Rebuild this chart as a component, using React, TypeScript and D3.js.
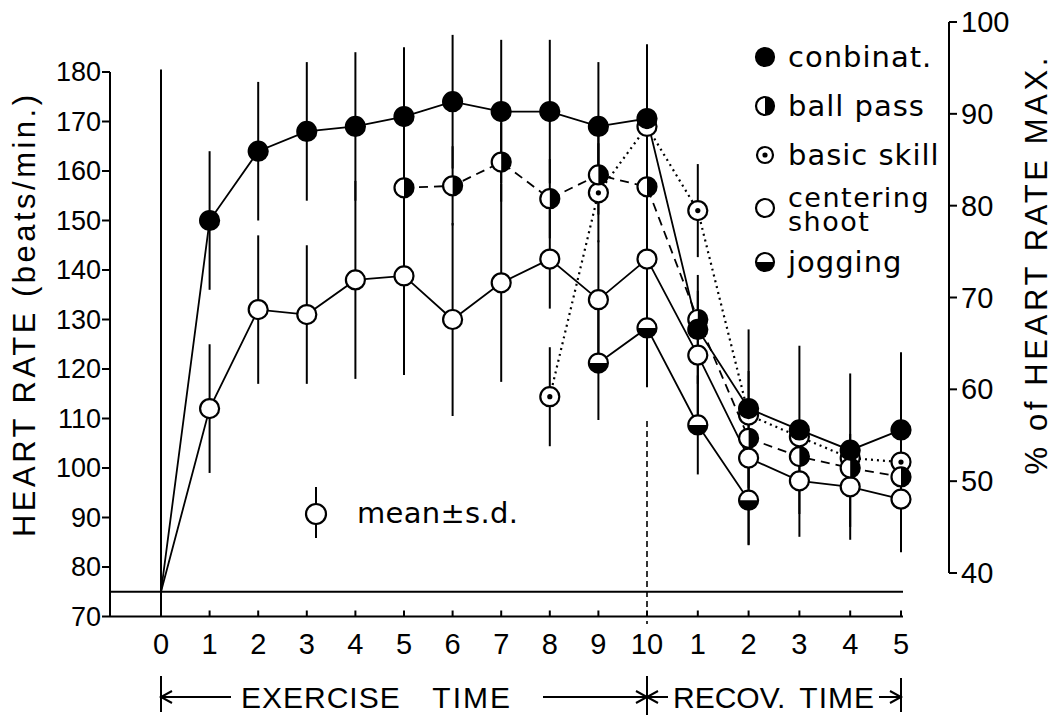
import React from 'react';
import * as d3 from 'd3';

// ---- data (index 0..10 = exercise min 0..10, 11..15 = recovery min 1..5)
const xTickLabels = ['0', '1', '2', '3', '4', '5', '6', '7', '8', '9', '10', '1', '2', '3', '4', '5'];
const hrTicks = [70, 80, 90, 100, 110, 120, 130, 140, 150, 160, 170, 180];
const pctTicks = [40, 50, 60, 70, 80, 90, 100];
const restingHR = 75;
const startLineRange = [70, 180.5];
const recoveryMarkerRange = [68.5, 109.5];

const conbinat = [75, 150, 164, 168, 169, 171, 174, 172, 172, 169, 170.6, 128, 112, 107.7, 103.6, 107.7];
const conbinatSd = [null, 14, 14, 14, 15, 14, 13.5, 14.5, 14.5, 13, 15, 11, 16, 17, 15.5, 15.7];

const ballPass = [null, null, null, null, null, 156.6, 157, 161.8, 154.4, 159.2, 156.8, 130, 106, 102.3, 100, 98.2];
const ballPassSd = [null, null, null, null, null, 8, 8, 8, 8, 8, 8, null, null, null, null, null];

const basicSkill = [null, null, null, null, null, null, null, null, 114.4, 155.6, 169, 152, 110.7, 106.3, 102, 101.2];
const basicSkillSd = [null, null, null, null, null, null, null, null, 10, 10, null, 9.4, null, null, null, null];

const centeringShoot = [75, 112, 132, 131, 138, 138.8, 130, 137.4, 142.2, 134, 142.2, 122.8, 102, 97.4, 96.2, 93.7];
const centeringShootSd = [null, 13, 15, 14, 20, 20, 19.5, 20, 10, 12, 14, 13, 17.6, 11.3, 10.7, 10.7];

const jogging = [null, null, null, null, null, null, null, null, null, 121.2, 128.3, 108.7, 93.5, null, null, null];
const joggingSd = [null, null, null, null, null, null, null, null, null, 11.5, 12, 10, 9, null, null, null];

type MarkerKind = 'filled' | 'halfRight' | 'dot' | 'open' | 'halfBottom';
interface Series { name: string[]; values: (number | null)[]; sd: (number | null)[]; marker: MarkerKind; dash: string | null; }

// draw order: bottom first
const series: Series[] = [
  { name: ['centering', 'shoot'], values: centeringShoot, sd: centeringShootSd, marker: 'open', dash: null },
  { name: ['jogging'], values: jogging, sd: joggingSd, marker: 'halfBottom', dash: null },
  { name: ['basic skill'], values: basicSkill, sd: basicSkillSd, marker: 'dot', dash: '2,4' },
  { name: ['ball pass'], values: ballPass, sd: ballPassSd, marker: 'halfRight', dash: '9,6' },
  { name: ['conbinat.'], values: conbinat, sd: conbinatSd, marker: 'filled', dash: null },
];
const legendOrder = ['conbinat.', 'ball pass', 'basic skill', 'centering', 'jogging'];

const W = 1060, H = 716;
const x = d3.scaleLinear().domain([0, 10, 15]).range([161, 647, 901]);
const y = d3.scaleLinear().domain([70, 180]).range([616.5, 72]);
const yPct = d3.scaleLinear().domain([40, 100]).range([573, 22]);

const AX_L = 110, AX_R = 949, X_END = 903;
const TICK_FONT = '"Liberation Sans", Arial, sans-serif';
const TEXT_FONT = '"DejaVu Sans", sans-serif';

function Marker({ kind, cx, cy, r }: { kind: MarkerKind; cx: number; cy: number; r: number }) {
  const sw = 2.2;
  if (kind === 'filled') return <circle cx={cx} cy={cy} r={r} fill="#000" stroke="#000" strokeWidth={sw} />;
  if (kind === 'open') return <circle cx={cx} cy={cy} r={r} fill="#fff" stroke="#000" strokeWidth={sw} />;
  if (kind === 'dot') return (
    <g>
      <circle cx={cx} cy={cy} r={r} fill="#fff" stroke="#000" strokeWidth={sw} />
      <circle cx={cx} cy={cy} r={2.6} fill="#000" />
    </g>
  );
  if (kind === 'halfRight') return (
    <g>
      <circle cx={cx} cy={cy} r={r} fill="#fff" />
      <path d={`M${cx},${cy - r} A${r},${r} 0 0 1 ${cx},${cy + r} Z`} fill="#000" />
      <circle cx={cx} cy={cy} r={r} fill="none" stroke="#000" strokeWidth={sw} />
    </g>
  );
  return (
    <g>
      <circle cx={cx} cy={cy} r={r} fill="#fff" />
      <path d={`M${cx - r},${cy} A${r},${r} 0 0 0 ${cx + r},${cy} Z`} fill="#000" />
      <circle cx={cx} cy={cy} r={r} fill="none" stroke="#000" strokeWidth={sw} />
    </g>
  );
}

export default function App() {
  const line = d3.line<number | null>()
    .defined(d => d != null)
    .x((_, i) => x(i))
    .y(d => y(d as number));

  const legendY: Record<string, number> = { 'conbinat.': 57, 'ball pass': 106, 'basic skill': 155, 'centering': 208, 'jogging': 262 };

  return (
    <svg width={W} height={H} viewBox={`0 0 ${W} ${H}`} style={{ position: 'absolute', left: 0, top: 0, background: '#fff' }}>
      <rect x={0} y={0} width={W} height={H} fill="#fff" />
      {/* left axis */}
      <line x1={AX_L} x2={AX_L} y1={y(180)} y2={y(70)} stroke="#000" strokeWidth={2} />
      {hrTicks.map(t => (
        <g key={'hl' + t}>
          <line x1={AX_L - 8} x2={AX_L} y1={y(t)} y2={y(t)} stroke="#000" strokeWidth={2} />
          <text x={AX_L - 9} y={y(t)} textAnchor="end" dominantBaseline="central" fontFamily={TICK_FONT} fontSize={27}>{t}</text>
        </g>
      ))}
      {/* bottom axis */}
      <line x1={AX_L} x2={X_END} y1={y(70)} y2={y(70)} stroke="#000" strokeWidth={2} />
      {xTickLabels.map((lab, i) => (
        <g key={'xt' + i}>
          <line x1={x(i)} x2={x(i)} y1={y(70)} y2={y(70) - 6} stroke="#000" strokeWidth={2} />
          <text x={x(i)} y={644} textAnchor="middle" dominantBaseline="central" fontFamily={TICK_FONT} fontSize={29}>{lab}</text>
        </g>
      ))}
      {/* resting line */}
      <line x1={AX_L} x2={X_END} y1={y(restingHR)} y2={y(restingHR)} stroke="#000" strokeWidth={2} />
      {/* start line at minute 0 */}
      <line x1={x(0)} x2={x(0)} y1={y(startLineRange[1])} y2={y(startLineRange[0])} stroke="#000" strokeWidth={2} />
      {/* end-of-exercise dashed marker */}
      <line x1={x(10)} x2={x(10)} y1={y(recoveryMarkerRange[1])} y2={y(recoveryMarkerRange[0])} stroke="#000" strokeWidth={1.6} strokeDasharray="6,4" />

      {/* right axis */}
      <line x1={AX_R} x2={AX_R} y1={yPct(100)} y2={yPct(40)} stroke="#000" strokeWidth={2} />
      {pctTicks.map(t => (
        <g key={'pr' + t}>
          <line x1={AX_R} x2={AX_R + 8} y1={yPct(t)} y2={yPct(t)} stroke="#000" strokeWidth={2} />
          <text x={AX_R + 12} y={yPct(t)} dominantBaseline="central" fontFamily={TICK_FONT} fontSize={29}>{t}</text>
        </g>
      ))}

      {/* axis titles */}
      <text transform={`translate(24,${316}) rotate(-90)`} textAnchor="middle" dominantBaseline="central"
        fontFamily={TICK_FONT} fontSize={31} textLength={442} lengthAdjust="spacing">HEART  RATE (beats/min.)</text>
      <text transform={`translate(1036,${266}) rotate(-90)`} textAnchor="middle" dominantBaseline="central"
        fontFamily={TICK_FONT} fontSize={31} textLength={417} lengthAdjust="spacing">% of  HEART RATE MAX.</text>

      {/* error bars */}
      {series.map((s, si) => (
        <g key={'eb' + si}>
          {s.values.map((v, i) => (v != null && s.sd[i] != null) ? (
            <line key={i} x1={x(i)} x2={x(i)} y1={y(v + (s.sd[i] as number))} y2={y(v - (s.sd[i] as number))} stroke="#000" strokeWidth={2} />
          ) : null)}
        </g>
      ))}
      {/* lines */}
      {series.map((s, si) => (
        <path key={'ln' + si} d={line(s.values) || ''} fill="none" stroke="#000" strokeWidth={s.dash === '2,4' ? 2.2 : 1.8}
          strokeDasharray={s.dash || undefined} />
      ))}
      {/* markers */}
      {series.map((s, si) => (
        <g key={'mk' + si}>
          {s.values.map((v, i) => (v != null && i > 0) ? (
            <Marker key={i} kind={s.marker} cx={x(i)} cy={y(v)} r={9.5} />
          ) : null)}
        </g>
      ))}

      {/* legend */}
      {legendOrder.map(key => {
        const s = series.find(ss => ss.name[0] === key)!;
        const ly = legendY[key];
        return (
          <g key={'lg' + key}>
            <Marker kind={s.marker} cx={765} cy={ly} r={key === 'basic skill' ? 8 : 9} />
            {s.name.length === 1 ? (
              <text x={788} y={ly} dominantBaseline="central" fontFamily={TEXT_FONT} fontSize={29} letterSpacing={1}>{s.name[0]}</text>
            ) : (
              <g>
                <text x={788} y={ly - 11} dominantBaseline="central" fontFamily={TEXT_FONT} fontSize={27} letterSpacing={1.5}>{s.name[0]}</text>
                <text x={788} y={ly + 13} dominantBaseline="central" fontFamily={TEXT_FONT} fontSize={27} letterSpacing={1.5}>{s.name[1]}</text>
              </g>
            )}
          </g>
        );
      })}

      {/* mean ± s.d. annotation */}
      <line x1={316} x2={316} y1={487} y2={538} stroke="#000" strokeWidth={2} />
      <Marker kind="open" cx={316} cy={514} r={10} />
      <text x={357} y={513} dominantBaseline="central" fontFamily={TEXT_FONT} fontSize={29} textLength={161} lengthAdjust="spacing">mean±s.d.</text>

      {/* time spans */}
      <g stroke="#000" strokeWidth={2} fill="none">
        <line x1={x(0)} x2={x(0)} y1={676} y2={712} />
        <line x1={x(0)} x2={231} y1={697} y2={697} />
        <polyline points={`${x(0) + 11},${691} ${x(0)},${697} ${x(0) + 11},${703}`} />
        <line x1={543} x2={x(10)} y1={697} y2={697} />
        <polyline points={`${x(10) - 11},${691} ${x(10)},${697} ${x(10) - 11},${703}`} />
        <line x1={x(10)} x2={x(10)} y1={676} y2={715} />
        <line x1={x(10)} x2={668} y1={697} y2={697} />
        <polyline points={`${x(10) + 11},${691} ${x(10)},${697} ${x(10) + 11},${703}`} />
        <line x1={879} x2={x(15)} y1={697} y2={697} />
        <polyline points={`${x(15) - 11},${691} ${x(15)},${697} ${x(15) - 11},${703}`} />
        <line x1={x(15)} x2={x(15)} y1={678} y2={712} />
      </g>
      <text x={241} y={697} dominantBaseline="central" fontFamily={TICK_FONT} fontSize={30} letterSpacing={1}>EXERCISE</text>
      <text x={512} y={697} textAnchor="end" dominantBaseline="central" fontFamily={TICK_FONT} fontSize={30} letterSpacing={2}>TIME</text>
      <text x={673} y={697} dominantBaseline="central" fontFamily={TICK_FONT} fontSize={30}>RECOV.</text>
      <text x={875} y={697} textAnchor="end" dominantBaseline="central" fontFamily={TICK_FONT} fontSize={30} letterSpacing={1}>TIME</text>
    </svg>
  );
}
